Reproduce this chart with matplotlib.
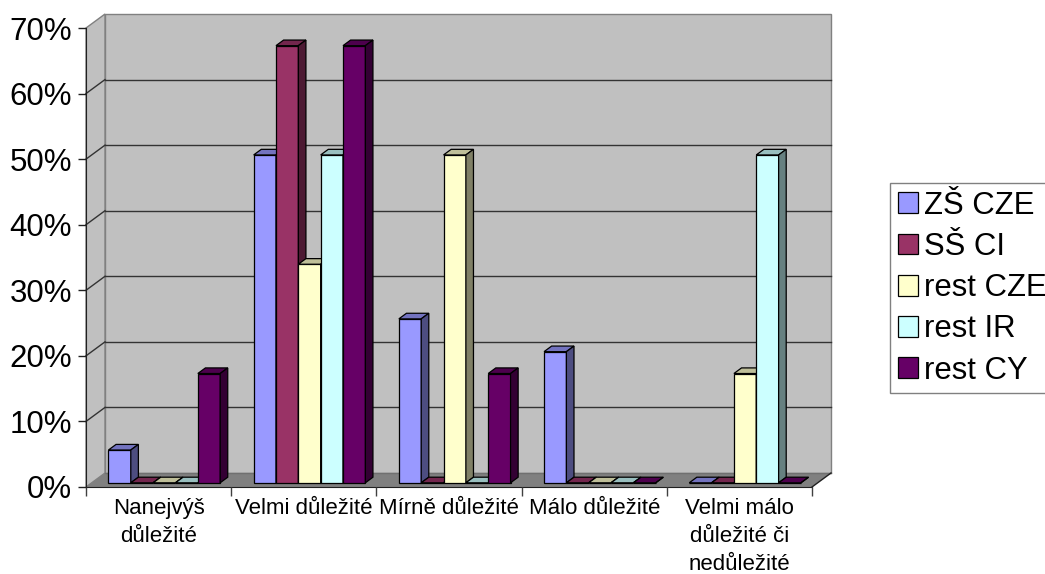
import matplotlib
matplotlib.use("Agg")
import matplotlib.pyplot as plt
from matplotlib.patches import Polygon, Patch
from matplotlib.ticker import FixedLocator, PercentFormatter, NullFormatter

plt.rcParams["font.family"] = ["Liberation Sans", "DejaVu Sans"]

# ---- data -------------------------------------------------------------
categories = [
    "Nanejvýš\ndůležité",
    "Velmi důležité",
    "Mírně důležité",
    "Málo důležité",
    "Velmi málo\ndůležité či\nnedůležité",
]
series_names = ["ZŠ CZE", "SŠ CI", "rest CZE", "rest IR", "rest CY"]
zs_cze = [0.05, 0.50, 0.25, 0.20, 0.0]
ss_ci = [0.0, 2 / 3, 0.0, 0.0, 0.0]
rest_cze = [0.0, 1 / 3, 0.50, 0.0, 1 / 6]
rest_ir = [0.0, 0.50, 0.0, 0.0, 0.50]
rest_cy = [1 / 6, 2 / 3, 1 / 6, 0.0, 0.0]
y_ticks = [0.0, 0.1, 0.2, 0.3, 0.4, 0.5, 0.6, 0.7]

series_values = [zs_cze, ss_ci, rest_cze, rest_ir, rest_cy]

# ---- styling ----------------------------------------------------------
front_colors = ["#9999FF", "#993366", "#FFFFCC", "#CCFFFF", "#660066"]
top_colors = ["#7373BF", "#73264D", "#BFBF99", "#99BFBF", "#4D004D"]
side_colors = ["#4D4D80", "#4D1A33", "#808066", "#668080", "#330033"]

W, H = 1045, 574
fig = plt.figure(figsize=(W / 100, H / 100), dpi=100)
fig.patch.set_facecolor("white")

# front plane of the 3-D box
ax = fig.add_axes([86 / W, (H - 487) / H, 726 / W, 459 / H])
n_cat = len(categories)
ymax = y_ticks[-1]
ax.set_xlim(0, n_cat)
ax.set_ylim(0, ymax)
ax.patch.set_visible(False)

# oblique depth of the box, given in pixels and turned into data units
px_x = ax.bbox.width / n_cat
px_y = ax.bbox.height / ymax
DX = 19 / px_x
DY = 14 / px_y
# bars sit between 30 % and 70 % of the depth
f_front, f_depth = 0.30, 0.40
bdx, bdy = f_depth * DX, f_depth * DY

# walls
wall_kw = dict(facecolor="#C0C0C0", edgecolor="#808080", lw=1.0, clip_on=False, zorder=0.5)
ax.add_patch(Polygon([(DX, DY), (n_cat + DX, DY), (n_cat + DX, ymax + DY), (DX, ymax + DY)], **wall_kw))
ax.add_patch(Polygon([(0, 0), (DX, DY), (DX, ymax + DY), (0, ymax)], **wall_kw))
for t in y_ticks[1:-1]:
    ax.plot([DX, n_cat + DX], [t + DY, t + DY], color="#333333", lw=1.0, zorder=0.6, clip_on=False)
    ax.plot([0, DX], [t, t + DY], color="#333333", lw=1.0, zorder=0.6, clip_on=False)

# floor
ax.add_patch(Polygon([(0, 0), (n_cat, 0), (n_cat + DX, DY), (DX, DY)],
                     facecolor="#808080", edgecolor="none", clip_on=False, zorder=0.7))
ax.plot([DX, n_cat + DX], [DY, DY], color="#707070", lw=1.0, zorder=0.75, clip_on=False)
ax.plot([n_cat, n_cat + DX], [0, DY], color="#202020", lw=1.0, zorder=0.75, clip_on=False)

# bars
n_ser = len(series_values)
bw = 1.0 / (n_ser + 1.5)
offset = 0.75 * bw
edge_kw = dict(edgecolor="black", lw=0.9)
for j, vals in enumerate(series_values):
    z = 3 + j * 0.1
    lefts = [i + offset + j * bw + f_front * DX for i in range(n_cat)]
    base = f_front * DY
    ax.bar(lefts, vals, width=bw, bottom=base, align="edge",
           color=front_colors[j], zorder=z, clip_on=False, **edge_kw)
    for xl, v in zip(lefts, vals):
        top = base + v
        ax.add_patch(Polygon([(xl, top), (xl + bw, top), (xl + bw + bdx, top + bdy), (xl + bdx, top + bdy)],
                             facecolor=top_colors[j], zorder=z, clip_on=False, **edge_kw))
        ax.add_patch(Polygon([(xl + bw, base), (xl + bw + bdx, base + bdy),
                              (xl + bw + bdx, top + bdy), (xl + bw, top)],
                             facecolor=side_colors[j], zorder=z, clip_on=False, **edge_kw))

# axes
for s in ("top", "right"):
    ax.spines[s].set_visible(False)
ax.spines["left"].set_color("#202020")
ax.spines["bottom"].set_color("#202020")
ax.spines["left"].set_zorder(1)
ax.spines["bottom"].set_zorder(1)

ax.yaxis.set_major_locator(FixedLocator(y_ticks))
ax.yaxis.set_major_formatter(PercentFormatter(1.0, decimals=0))
ax.tick_params(axis="y", direction="out", length=6, width=1, color="#202020",
               pad=4, labelsize=22.5)

ax.xaxis.set_major_locator(FixedLocator(list(range(n_cat + 1))))
ax.xaxis.set_major_formatter(NullFormatter())
ax.xaxis.set_minor_locator(FixedLocator([i + 0.5 for i in range(n_cat)]))
ax.set_xticklabels(categories, minor=True)
ax.tick_params(axis="x", which="major", direction="out", length=6.5, width=1, color="#404040")
ax.tick_params(axis="x", which="minor", length=0, pad=8, labelsize=16)
for lbl in ax.get_xticklabels(minor=True):
    lbl.set_horizontalalignment("center")
    lbl.set_verticalalignment("top")
    lbl.set_multialignment("center")
    lbl.set_linespacing(1.42)

# legend
handles = [Patch(facecolor=c, edgecolor="black", lw=0.9) for c in front_colors]
leg = fig.legend(handles, series_names, loc="upper left",
                 bbox_to_anchor=(890 / W, 1 - 183 / H), bbox_transform=fig.transFigure,
                 borderaxespad=0, fontsize=22.4, frameon=True, fancybox=False,
                 handlelength=0.65, handleheight=0.65, handletextpad=0.2,
                 borderpad=0.25, labelspacing=0.36)
leg.get_frame().set_edgecolor("#606060")
leg.get_frame().set_linewidth(1.0)

fig.savefig("out.png", dpi=100)
